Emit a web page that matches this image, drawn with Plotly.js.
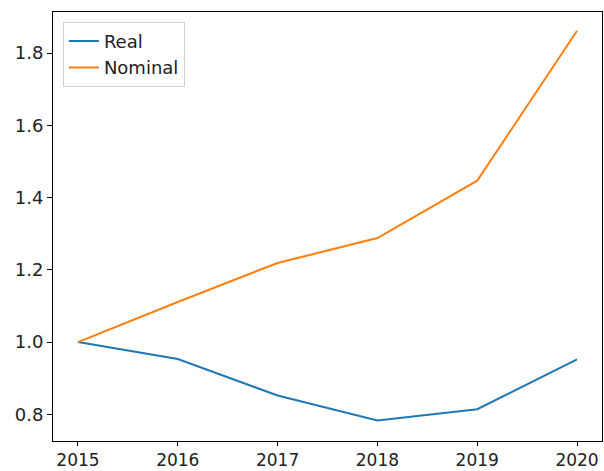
<!DOCTYPE html>
<html>
<head>
<meta charset="utf-8">
<script src="https://cdn.plot.ly/plotly-3.0.1.min.js"></script>
<style>html,body{margin:0;padding:0;background:#fff;}#chart{width:604px;height:471px;}</style>
</head>
<body>
<div id="chart"></div>
<script>
const years = [2015, 2016, 2017, 2018, 2019, 2020];
const realValues = [1.0, 0.953, 0.852, 0.783, 0.814, 0.952];
const nominalValues = [1.0, 1.111, 1.219, 1.288, 1.447, 1.862];
const seriesNames = ["Real", "Nominal"];

const font = {family: "DejaVu Sans", size: 17, color: "#222"};
const traces = [
  {x: years, y: realValues, name: seriesNames[0], type: "scatter", mode: "lines",
   line: {color: "#1f77b4", width: 2}},
  {x: years, y: nominalValues, name: seriesNames[1], type: "scatter", mode: "lines",
   line: {color: "#ff7f0e", width: 2}}
];
const layout = {
  width: 604, height: 471,
  margin: {l: 53, r: 2, t: 12, b: 30, pad: 0},
  paper_bgcolor: "#fff", plot_bgcolor: "#fff",
  font: font,
  showlegend: true,
  legend: {x: 0.018, y: 0.977, xanchor: "left", yanchor: "top",
    bgcolor: "rgba(255,255,255,0.8)", bordercolor: "#d0d0d0", borderwidth: 1,
    entrywidth: 100, entrywidthmode: "pixels",
    font: {family: "DejaVu Sans", size: 18, color: "#222"}},
  xaxis: {range: [2014.75, 2020.25], tickvals: years, ticktext: years.map(String),
    showgrid: false, zeroline: false, showline: true, mirror: true, linecolor: "#000", linewidth: 1,
    ticks: "outside", ticklen: 4, tickwidth: 1, tickcolor: "#000", tickfont: font},
  yaxis: {range: [0.726, 1.914], dtick: 0.2, tick0: 0, tickformat: ".1f",
    showgrid: false, zeroline: false, showline: true, mirror: true, linecolor: "#000", linewidth: 1,
    ticks: "outside", ticklen: 5, tickwidth: 1, tickcolor: "#000", tickfont: {family: "DejaVu Sans", size: 18, color: "#222"}}
};
Plotly.newPlot("chart", traces, layout, {displayModeBar: false, staticPlot: true});
</script>
</body>
</html>
